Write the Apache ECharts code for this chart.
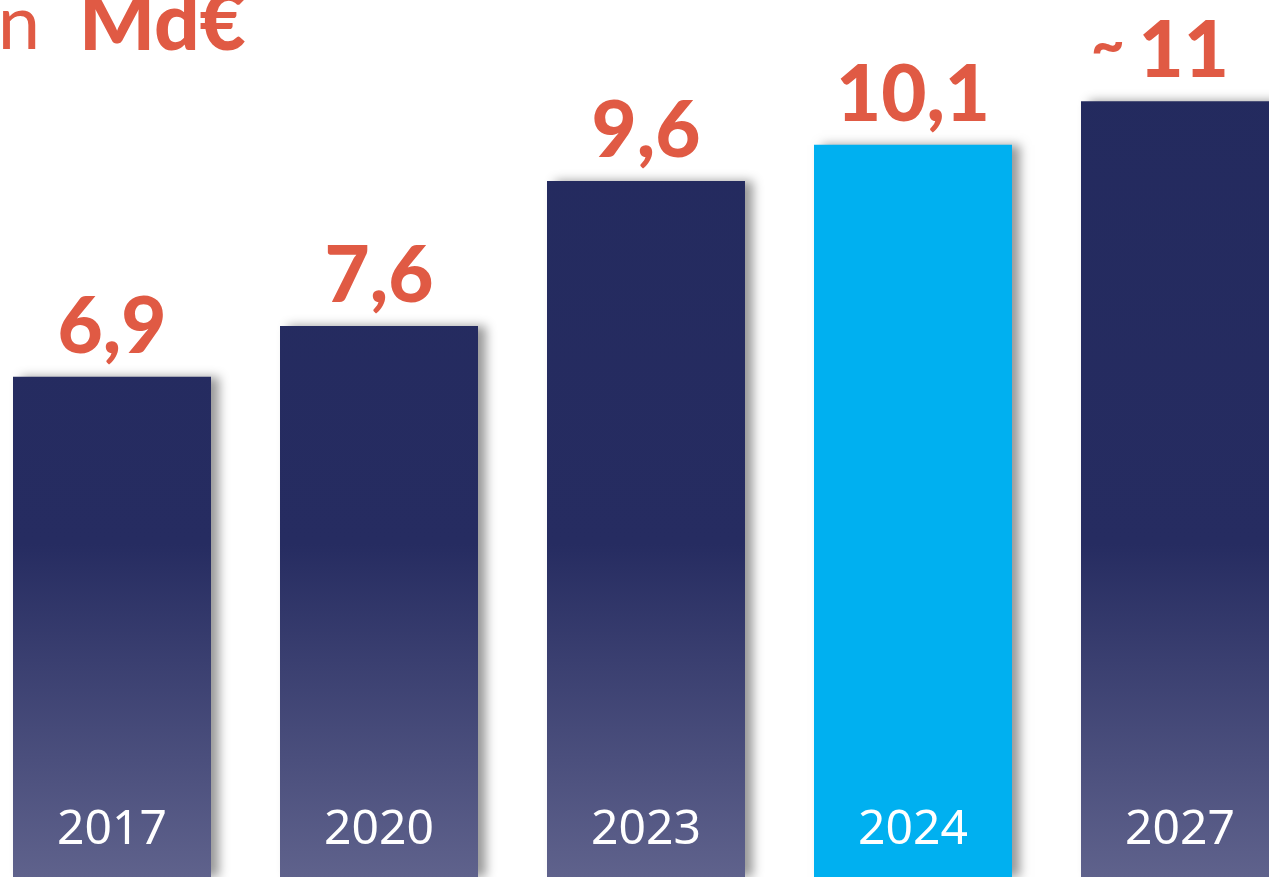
<!DOCTYPE html>
<head>
    <meta charset="utf-8">
    <title>ECharts</title>
    <style>html,body{margin:0;padding:0;background:#fff;}</style>
</head>
<body>
    <script src="https://cdn.jsdelivr.net/npm/echarts@6/dist/echarts.min.js"></script>
    <div id="main" style="width:1269px;height:877px"></div>
    <script type="text/javascript">
    // données
    var years = ['2017', '2020', '2023', '2024', '2027'];
    var values = [6.9, 7.6, 9.6, 10.1, 10.7];
    var valueLabels = ['6,9', '7,6', '9,6', '10,1', '{t|~ }{v|11}'];
    var highlightYear = '2024';

    var navy = {
        type: 'linear', x: 0, y: 0, x2: 0, y2: 877, global: true,
        colorStops: [
            {offset: 0, color: '#232A5E'},
            {offset: 0.62, color: '#262C61'},
            {offset: 1, color: '#5F628C'}
        ]
    };

    var barData = [];
    for (var i = 0; i < years.length; i++) {
        var item = {
            value: values[i],
            itemStyle: {color: years[i] == highlightYear ? '#00B0F0' : navy},
            label: {formatter: valueLabels[i]}
        };
        if (i == years.length - 1) item.label.offset = [-20, 0];
        barData.push(item);
    }

    var myChart = echarts.init(document.getElementById('main'));
    myChart.setOption({
        animation: false,
        grid: {left: 112, right: 89, top: 7, bottom: 0},
        graphic: [{
            type: 'text',
            style: {
                text: '{r|en  }{b|Md€}',
                x: 246, y: 62,
                align: 'right', verticalAlign: 'bottom',
                rich: {
                    r: {fontSize: 76, lineHeight: 76, fontFamily: 'Lato', fontWeight: 'normal', fill: '#E05A44', color: '#E05A44'},
                    b: {fontSize: 80, lineHeight: 76, fontFamily: 'Lato', fontWeight: 900, fill: '#E05A44', color: '#E05A44'}
                }
            }
        }],
        xAxis: {
            type: 'category',
            data: years,
            boundaryGap: false,
            z: 5,
            axisLine: {show: false},
            axisTick: {show: false},
            axisLabel: {
                inside: true,
                margin: 23,
                color: '#ffffff',
                fontSize: 48,
                lineHeight: 48,
                fontFamily: 'Noto Sans'
            }
        },
        yAxis: {
            type: 'value', min: 0, max: 12, show: false,
            splitLine: {show: false}
        },
        series: [{
            type: 'bar',
            barWidth: 198,
            data: barData,
            itemStyle: {
                shadowColor: 'rgba(0,0,0,0.4)',
                shadowBlur: 10,
                shadowOffsetX: 8
            },
            label: {
                show: true,
                position: 'top',
                distance: 11,
                color: '#E05A44',
                fontSize: 78,
                lineHeight: 76,
                fontWeight: 900,
                fontFamily: 'Lato',
                rich: {
                    t: {fontSize: 58, lineHeight: 76, color: '#E05A44', fontWeight: 900, fontFamily: 'Lato', padding: [0, 0, 12, 0]},
                    v: {fontSize: 78, lineHeight: 76, color: '#E05A44', fontWeight: 900, fontFamily: 'Lato'}
                }
            }
        }]
    });
    </script>
</body>
